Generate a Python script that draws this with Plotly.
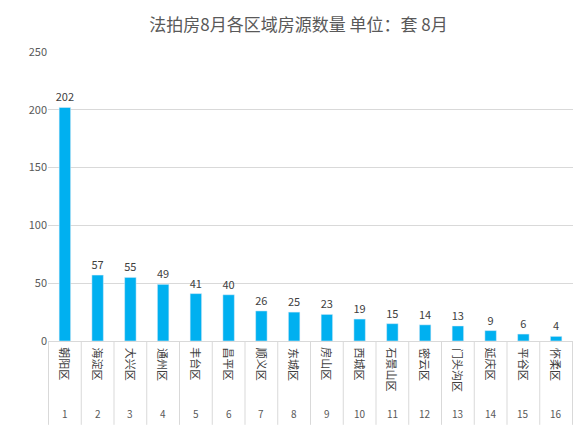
import plotly.graph_objects as go

names = ["朝阳区","海淀区","大兴区","通州区","丰台区","昌平区","顺义区","东城区",
         "房山区","西城区","石景山区","密云区","门头沟区","延庆区","平谷区","怀柔区"]
values = [202,57,55,49,41,40,26,25,23,19,15,14,13,9,6,4]
ranks = [str(i) for i in range(1, 17)]

fig = go.Figure(go.Bar(
    x=ranks, y=values, marker_color="#00B0F0", width=0.35,
    text=[str(v) for v in values], textposition="outside", constraintext="none",
    textfont=dict(size=11, color="#404040"), cliponaxis=False))

for i, (r, n) in enumerate(zip(ranks, names)):
    fig.add_annotation(x=i, y=0, xref="x", yref="y", text=n, textangle=90,
                       showarrow=True, arrowcolor="rgba(0,0,0,0)", ax=0,
                       ay=6 + 11.5 * len(n) / 2,
                       font=dict(size=11, color="#404040"))
    fig.add_annotation(x=i, y=0, xref="x", yref="y", text=r, showarrow=False,
                       yanchor="top", yshift=-63, font=dict(size=10, color="#595959"))
    fig.add_shape(type="line", xref="x", yref="paper", x0=i - 0.5, x1=i - 0.5,
                  y0=0, y1=-0.29, line=dict(color="#D9D9D9", width=1))
fig.add_shape(type="line", xref="x", yref="paper", x0=15.5, x1=15.5,
              y0=0, y1=-0.29, line=dict(color="#D9D9D9", width=1))

fig.update_layout(
    width=581, height=431, paper_bgcolor="white", plot_bgcolor="white",
    margin=dict(l=40, r=16, t=44, b=98),
    title=dict(text="法拍房8月各区域房源数量 单位：套 8月", x=0.5, y=0.975,
               font=dict(size=17, color="#595959", family="Noto Sans CJK SC")),
    font=dict(family="Noto Sans CJK SC"),
    showlegend=False,
    xaxis=dict(type="category", showticklabels=False, showline=True, linecolor="#D9D9D9"),
    yaxis=dict(range=[0, 250], dtick=50, gridcolor="#D9D9D9", zeroline=False,
               tickfont=dict(size=11, color="#595959")),
)
fig.write_html("out.html")
